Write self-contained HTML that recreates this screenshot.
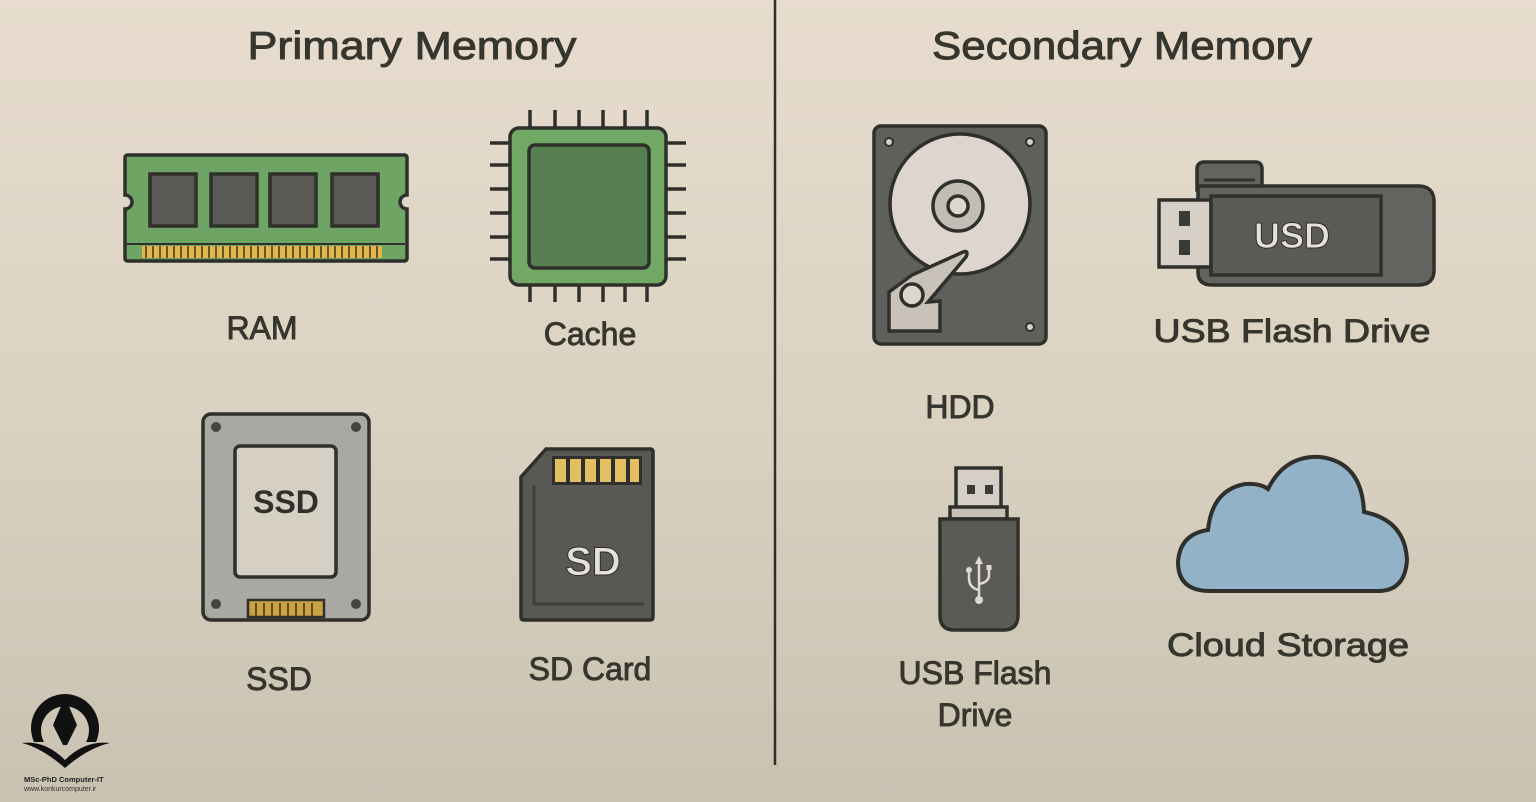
<!DOCTYPE html>
<html><head><meta charset="utf-8"><style>
html,body{margin:0;padding:0;width:1536px;height:802px;overflow:hidden}
svg{display:block}
text{font-family:"Liberation Sans","DejaVu Sans",sans-serif;fill:#36362f}
.lb{stroke:#36362f;stroke-width:0.9}
</style></head><body>
<svg width="1536" height="802" viewBox="0 0 1536 802" xmlns="http://www.w3.org/2000/svg">
<defs>
<linearGradient id="bg" x1="0" y1="0" x2="0" y2="1">
<stop offset="0" stop-color="#e7dccd"/><stop offset="0.5" stop-color="#dbd2c2"/><stop offset="1" stop-color="#c9c2b1"/>
</linearGradient>
</defs>
<rect width="1536" height="802" fill="url(#bg)"/>
<line x1="775" y1="0" x2="775" y2="765" stroke="#2e2e2a" stroke-width="2.5"/>

<text class="lb" x="412" y="59" font-size="39" text-anchor="middle" textLength="329" lengthAdjust="spacingAndGlyphs">Primary Memory</text>
<text class="lb" x="1122" y="59" font-size="39" text-anchor="middle" textLength="380" lengthAdjust="spacingAndGlyphs">Secondary Memory</text>

<g stroke="#2f2f2b" stroke-width="3.5">
<path d="M128,155 H404 Q407,155 407,158 V195 A7,7 0 0 0 407,209 V258 Q407,261 404,261 H128 Q125,261 125,258 V209 A7,7 0 0 0 125,195 V158 Q125,155 128,155 Z" fill="#6ea564"/>
<rect x="150" y="174" width="46" height="52" fill="#595a55"/>
<rect x="211" y="174" width="46" height="52" fill="#595a55"/>
<rect x="270" y="174" width="46" height="52" fill="#595a55"/>
<rect x="332" y="174" width="46" height="52" fill="#595a55"/>
<line x1="127" y1="244" x2="405" y2="244" stroke-width="2"/>
</g>
<g fill="#e2b64e">
<rect x="142" y="246" width="240" height="12"/>
</g>
<g stroke="#6a5520" stroke-width="2">
<path d="M146,246V258M153,246V258M160,246V258M167,246V258M174,246V258M181,246V258M188,246V258M195,246V258M202,246V258M209,246V258M216,246V258M223,246V258M230,246V258M237,246V258M244,246V258M251,246V258M258,246V258M265,246V258M272,246V258M279,246V258M286,246V258M293,246V258M300,246V258M307,246V258M314,246V258M321,246V258M328,246V258M335,246V258M342,246V258M349,246V258M356,246V258M363,246V258M370,246V258M377,246V258"/>
</g>
<text class="lb" x="262" y="339" font-size="32" text-anchor="middle">RAM</text>

<g stroke="#2f2f2b" stroke-width="3.5">
<path d="M530,110V128M555,110V128M579,110V128M603,110V128M625,110V128M647,110V128M530,285V302M555,285V302M579,285V302M603,285V302M625,285V302M647,285V302M490,143H510M490,165H510M490,189H510M490,213H510M490,237H510M490,259H510M666,143H686M666,165H686M666,189H686M666,213H686M666,237H686M666,259H686"/>
<rect x="510" y="128" width="156" height="157" rx="9" fill="#71a866"/>
<rect x="529" y="145" width="120" height="123" rx="6" fill="#578050"/>
</g>
<text class="lb" x="590" y="345" font-size="32" text-anchor="middle">Cache</text>

<g stroke="#2f2f2b" stroke-width="3.5">
<rect x="203" y="414" width="166" height="206" rx="8" fill="#a9a8a2"/>
<rect x="235" y="446" width="101" height="131" rx="5" fill="#d6cfc4"/>
<rect x="248" y="600" width="76" height="17" fill="#c9a244" stroke-width="2.5"/>
</g>
<g fill="#45453f"><circle cx="216" cy="427" r="5"/><circle cx="356" cy="427" r="5"/><circle cx="216" cy="604" r="5"/><circle cx="356" cy="604" r="5"/></g>
<path d="M256,603V616M264,603V616M272,603V616M280,603V616M288,603V616M296,603V616M304,603V616M312,603V616" stroke="#5f4d1e" stroke-width="2"/>
<text x="286" y="513" font-size="32" text-anchor="middle" font-weight="bold" style="fill:#2f2f2b">SSD</text>
<text class="lb" x="279" y="690" font-size="32" text-anchor="middle">SSD</text>

<g stroke="#2f2f2b" stroke-width="3.5">
<path d="M546,449 H650 Q653,449 653,452 V617 Q653,620 650,620 H524 Q521,620 521,617 V477 Z" fill="#585955"/>
<rect x="552" y="456" width="90" height="29" fill="#2f2f2b" stroke="none"/>
</g>
<g fill="#e3bf61"><rect x="555" y="459" width="11" height="23"/><rect x="570" y="459" width="11" height="23"/><rect x="585" y="459" width="11" height="23"/><rect x="600" y="459" width="11" height="23"/><rect x="615" y="459" width="11" height="23"/><rect x="630" y="459" width="9" height="23"/></g>
<path d="M534,485 V604 H644" fill="none" stroke="#3f403c" stroke-width="3"/>
<text x="593" y="575" font-size="40" text-anchor="middle" font-weight="bold" style="fill:#e6e0d8" stroke="#2f2f2b" stroke-width="1">SD</text>
<text class="lb" x="590" y="680" font-size="32" text-anchor="middle">SD Card</text>

<g stroke="#2f2f2b" stroke-width="3.5">
<rect x="874" y="126" width="172" height="218" rx="7" fill="#5f605c"/>
<circle cx="960" cy="204" r="70" fill="#ddd5ce"/>
<circle cx="958" cy="206" r="25" fill="#c3bdb6"/>
<circle cx="958" cy="206" r="10" fill="#ddd5ce"/>
<path d="M889,292 L912,275 L963,252 Q969,250 966,257 L928,302 L940,301 V331 H889 Z" fill="#c8c2b9"/>
<circle cx="912" cy="295" r="11" fill="#ddd5ce"/>
</g>
<g fill="#d8d0c8" stroke="#2f2f2b" stroke-width="2"><circle cx="889" cy="142" r="4"/><circle cx="1030" cy="142" r="4"/><circle cx="1030" cy="327" r="4"/></g>
<text class="lb" x="960" y="418" font-size="32" text-anchor="middle">HDD</text>

<g stroke="#2f2f2b" stroke-width="3.5">
<path d="M1205,162 H1255 Q1262,162 1262,169 V190 H1197 V169 Q1197,162 1205,162 Z" fill="#636460"/>
<path d="M1200,186 H1418 Q1434,186 1434,202 V270 Q1434,285 1418,285 H1212 Q1198,285 1198,272 V186 Z" fill="#636460"/>
<rect x="1159" y="200" width="52" height="67" fill="#d7d0c7"/>
<rect x="1211" y="196" width="170" height="79" fill="#5a5b57"/>
<line x1="1204" y1="180" x2="1255" y2="180" stroke-width="3"/>
</g>
<rect x="1179" y="211" width="11" height="15" fill="#3a3a36"/><rect x="1179" y="240" width="11" height="15" fill="#3a3a36"/>
<text x="1292" y="248" font-size="36" text-anchor="middle" font-weight="bold" style="fill:#e6e0d8" stroke="#2f2f2b" stroke-width="1">USD</text>
<text class="lb" x="1292" y="342" font-size="32" text-anchor="middle" textLength="277" lengthAdjust="spacingAndGlyphs">USB Flash Drive</text>

<g stroke="#2f2f2b" stroke-width="3.5">
<rect x="956" y="468" width="45" height="40" fill="#d6cfc6"/>
<rect x="950" y="507" width="57" height="12" fill="#c7c0b7"/>
<path d="M940,519 H1018 V615 Q1018,630 1003,630 H954 Q940,630 940,615 Z" fill="#5a5b57"/>
</g>
<rect x="967" y="485" width="8" height="9" fill="#3a3a36"/><rect x="985" y="485" width="8" height="9" fill="#3a3a36"/>
<g stroke="#e0d9d1" stroke-width="2.5" fill="none"><path d="M979,560 V598 M979,590 Q969,588 969,578 V572 M979,584 Q989,582 989,575 V569"/></g>
<g fill="#e0d9d1"><path d="M979,556 L975,564 H983 Z"/><circle cx="979" cy="600" r="4"/><circle cx="969" cy="570" r="3"/><rect x="986.5" y="565" width="5" height="5"/></g>
<text class="lb" x="975" y="684" font-size="32" text-anchor="middle">USB Flash</text>
<text class="lb" x="975" y="726" font-size="32" text-anchor="middle">Drive</text>

<path d="M1210,591 Q1178,591 1178,562 Q1180,534 1208,530 Q1212,490 1245,484 Q1260,483 1268,489 Q1285,455 1320,457 Q1362,462 1364,512 Q1405,520 1407,560 Q1405,591 1378,591 Z" fill="#92b2c8" stroke="#2f2f2b" stroke-width="4"/>
<text class="lb" x="1288" y="656" font-size="32" text-anchor="middle" textLength="242" lengthAdjust="spacingAndGlyphs">Cloud Storage</text>

<path d="M34,742 A34,34 0 1 1 96,742 L86,742 A24,24 0 1 0 44,742 Z" fill="#111"/>
<path d="M65,697 L77,725 L67,745 H63 L53,725 Z" fill="#111"/>
<path d="M22,743 Q45,740 65,760 Q85,740 110,743 Q88,748 65,768 Q42,748 22,743 Z" fill="#111"/>
<text x="24" y="782" font-size="7.5" font-weight="bold" style="fill:#222">MSc-PhD Computer-IT</text>
<text x="24" y="791" font-size="7" style="fill:#333">www.konkurcomputer.ir</text>
</svg>
</body></html>
